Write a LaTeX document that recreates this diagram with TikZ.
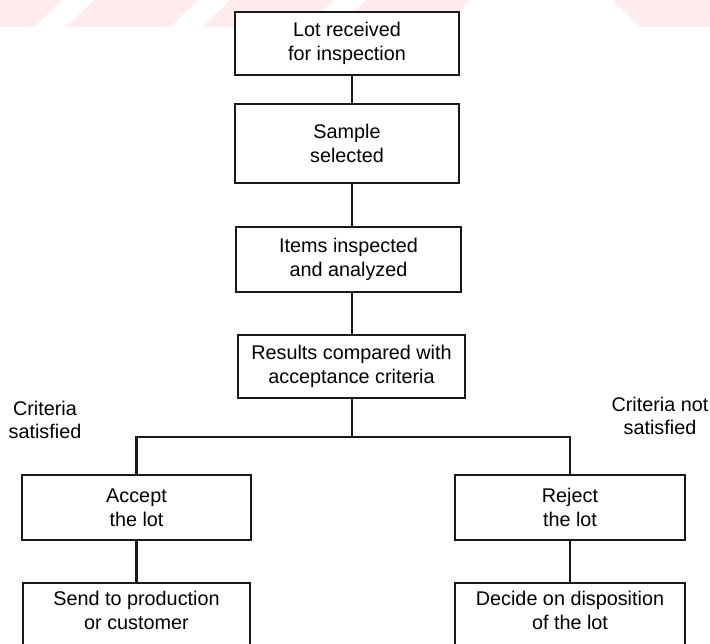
\documentclass[tikz,border=0pt]{standalone}
\usepackage{fontspec}
\setmainfont{Liberation Sans}
\begin{document}
\begin{tikzpicture}[x=1pt,y=-1pt,
  stepbox/.style={draw=black!90, line width=1.6pt, fill=white, align=center,
    inner sep=0pt, font=\fontsize{19.8}{24}\selectfont},
  note/.style={align=center, font=\fontsize{19.8}{23.5}\selectfont},
  link/.style={draw=black!90, line width=2.4pt}]
\useasboundingbox (0,0) rectangle (710,644);
\clip (0,0) rectangle (710,644);
% faint striped band along the top edge
\fill[red!8!white] (0,27) -- (34,27) -- (62,0) -- (0,0) -- cycle;
\fill[red!8!white] (66,27) -- (170,27) -- (198,0) -- (94,0) -- cycle;
\fill[red!8!white] (202,27) -- (306,27) -- (334,0) -- (230,0) -- cycle;
\fill[red!8!white] (338,27) -- (442,27) -- (470,0) -- (366,0) -- cycle;
\fill[red!8!white] (640,27) -- (710,27) -- (710,0) -- (612,0) -- cycle;

% main chain
\node[stepbox, minimum width=224, minimum height=63] (recv) at (347,43.5)
  {Lot received\\for inspection};
\node[stepbox, minimum width=224, minimum height=79] (sample) at (347,143.5)
  {Sample\\selected};
\node[stepbox, minimum width=225, minimum height=65] (inspect) at (348.5,259.5)
  {Items inspected\\and analyzed};
\node[stepbox, minimum width=227, minimum height=63] (compare) at (351.5,366.5)
  {Results compared with\\acceptance criteria};

% branches
\node[stepbox, minimum width=229, minimum height=65] (accept) at (136.5,507.5)
  {Accept\\the lot};
\node[stepbox, minimum width=230, minimum height=65] (reject) at (570,507.5)
  {Reject\\the lot};
\node[stepbox, minimum width=227, inner ysep=8, text depth=30, anchor=north] (send)
  at (136.5,582) {Send to production\\or customer};
\node[stepbox, minimum width=230, inner ysep=8, text depth=30, anchor=north] (decide)
  at (570,582) {Decide on disposition\\of the lot};

\node[note] (yes) at (45,420) {Criteria\\satisfied};
\node[note] (no) at (660,416) {Criteria not\\satisfied};

% trunk line and branching point
\coordinate (split) at (352,437);

\draw[link] (recv.south -| split) -- (sample.north -| split);
\draw[link] (sample.south -| split) -- (inspect.north -| split);
\draw[link] (inspect.south -| split) -- (compare.north -| split);
\draw[link] (compare.south -| split) -- (split);
\draw[link] (accept.north) |- (split) -| (reject.north);
\draw[link] (accept) -- (send);
\draw[link] (reject) -- (decide);
\end{tikzpicture}
\end{document}
